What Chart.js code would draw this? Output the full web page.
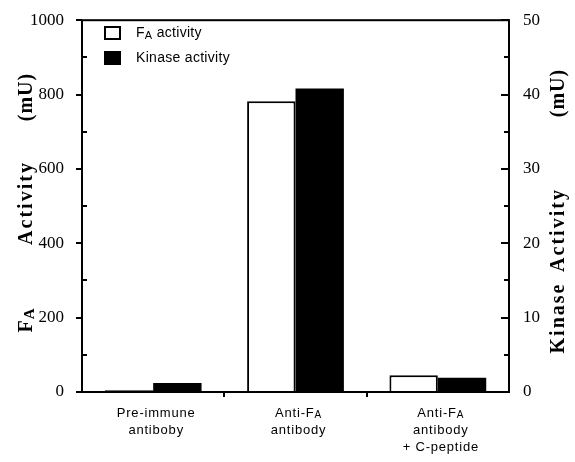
<!DOCTYPE html>
<html>
<head>
<meta charset="utf-8">
<script src="https://cdn.jsdelivr.net/npm/chart.js@4.4.0/dist/chart.umd.min.js"></script>
<style>
  html, body { margin: 0; padding: 0; background: #fff; }
</style>
</head>
<body>
<canvas id="canvas" width="575" height="462"></canvas>
<script>
'use strict';

// "_A" marks a subscript A
var categories = ['Pre-immune antiboby', 'Anti-F_A antibody', 'Anti-F_A antibody + C-peptide'];
var categoryLines = [
  ['Pre-immune', 'antiboby'],
  ['Anti-F_A', 'antibody'],
  ['Anti-F_A', 'antibody', '+ C-peptide']
];
var faActivity = [5, 782, 45];         // left axis, mU
var kinaseActivity = [1.2, 40.8, 1.9];  // right axis, mU
var leftMax = 1000;
var leftStep = 200;
var rightMax = 50;
var rightStep = 10;
var seriesNames = ['F_A activity', 'Kinase activity'];

var serif = '"Liberation Serif", "Times New Roman", serif';
var sans = '"Liberation Sans", Arial, sans-serif';

function drawRich(ctx, str, x, y, size, weight, family, spacing, align) {
  var segs = [];
  for (var i = 0; i < str.length; i++) {
    if (str[i] === '_') {
      segs.push({t: str[i + 1], sub: true});
      i++;
    } else if (segs.length && !segs[segs.length - 1].sub) {
      segs[segs.length - 1].t += str[i];
    } else {
      segs.push({t: str[i], sub: false});
    }
  }
  var total = 0;
  ctx.letterSpacing = spacing + 'px';
  segs.forEach(function (s) {
    ctx.font = weight + ' ' + (s.sub ? Math.round(size * 0.76) : size) + 'px ' + family;
    s.w = ctx.measureText(s.t).width;
    total += s.w;
  });
  var cx = x;
  if (align === 'center') cx = x - total / 2;
  ctx.textAlign = 'left';
  ctx.textBaseline = 'middle';
  segs.forEach(function (s) {
    ctx.font = weight + ' ' + (s.sub ? Math.round(size * 0.76) : size) + 'px ' + family;
    ctx.fillText(s.t, cx, s.sub ? y + size * 0.18 : y);
    cx += s.w;
  });
  ctx.letterSpacing = '0px';
}

function drawUp(ctx, str, x, y, size, spacing) {
  ctx.save();
  ctx.translate(x, y);
  ctx.rotate(-Math.PI / 2);
  drawRich(ctx, str, 0, 0, size, 'bold', serif, spacing, 'center');
  ctx.restore();
}

var framePlugin = {
  id: 'frame',
  afterDraw: function (chart) {
    var ctx = chart.ctx;
    var a = chart.chartArea;
    var y = chart.scales.y;
    var y2 = chart.scales.y2;
    var x = chart.scales.x;
    ctx.save();
    ctx.strokeStyle = '#000';
    ctx.fillStyle = '#000';
    ctx.lineWidth = 2;
    ctx.strokeRect(a.left, a.top, a.right - a.left, a.bottom - a.top);

    ctx.beginPath();
    var v, p;
    for (v = 0; v <= leftMax; v += leftStep / 2) {
      p = Math.round(y.getPixelForValue(v));
      if (v % leftStep === 0) {
        ctx.moveTo(a.left - 6, p);
        ctx.lineTo(a.left, p);
      } else {
        ctx.moveTo(a.left, p);
        ctx.lineTo(a.left + 5, p);
      }
    }
    for (v = 0; v <= rightMax; v += rightStep / 2) {
      p = Math.round(y2.getPixelForValue(v));
      ctx.moveTo(a.right, p);
      ctx.lineTo(a.right - (v % rightStep === 0 ? 8 : 5), p);
    }
    for (var i = 0; i < categories.length - 1; i++) {
      p = Math.round((x.getPixelForValue(i) + x.getPixelForValue(i + 1)) / 2);
      ctx.moveTo(p, a.bottom);
      ctx.lineTo(p, a.bottom + 5);
    }
    ctx.stroke();

    // category labels
    ctx.fillStyle = '#000';
    categoryLines.forEach(function (lines, i) {
      var cx = x.getPixelForValue(i) + 3;
      lines.forEach(function (line, j) {
        drawRich(ctx, line, cx, 413 + j * 17, 13, 'normal', sans, 0.8, 'center');
      });
    });

    // legend
    ctx.lineWidth = 2;
    ctx.fillStyle = '#fff';
    ctx.fillRect(105, 27, 15, 12);
    ctx.strokeRect(105, 27, 15, 12);
    ctx.fillStyle = '#000';
    ctx.fillRect(104, 51, 17, 14);
    drawRich(ctx, seriesNames[0], 136, 33, 14, 'normal', sans, 0.3, 'left');
    drawRich(ctx, seriesNames[1], 136, 58, 14, 'normal', sans, 0.3, 'left');

    // axis titles
    drawUp(ctx, '(mU)', 27, 97, 20, 1);
    drawUp(ctx, 'Activity', 27, 203, 20, 2);
    drawUp(ctx, 'F_A', 27, 320, 20, 1);
    drawUp(ctx, '(mU)', 559, 93, 20, 1);
    drawUp(ctx, 'Activity', 559, 230, 20, 2);
    drawUp(ctx, 'Kinase', 559, 318, 20, 2);
    ctx.restore();
  }
};

var canvas = document.getElementById('canvas');
var ctx = canvas.getContext('2d');

function plainTick(value) {
  return String(value);
}

var chartStuff = {
  type: 'bar',
  data: {
    labels: categories,
    datasets: [{
      label: seriesNames[0],
      data: faActivity,
      yAxisID: 'y',
      backgroundColor: '#fff',
      borderColor: '#000',
      borderWidth: 2,
      borderSkipped: 'bottom'
    }, {
      label: seriesNames[1],
      data: kinaseActivity,
      yAxisID: 'y2',
      backgroundColor: '#000',
      borderColor: '#000',
      borderWidth: 0
    }]
  },
  options: {
    responsive: false,
    animation: false,
    devicePixelRatio: 1,
    layout: { padding: { top: 14, left: 0, right: 0, bottom: 0 } },
    categoryPercentage: 0.68,
    barPercentage: 1,
    plugins: {
      legend: { display: false },
      tooltip: { enabled: false }
    },
    scales: {
      x: {
        grid: { display: false },
        border: { display: false },
        ticks: { display: false },
        afterFit: function (s) { s.height = 70; }
      },
      y: {
        position: 'left',
        min: 0,
        max: leftMax,
        grid: { display: false },
        border: { display: false },
        ticks: {
          stepSize: leftStep,
          padding: 10,
          color: '#000',
          font: { family: serif, size: 17 },
          callback: plainTick
        },
        afterFit: function (s) { s.width = 82; }
      },
      y2: {
        position: 'right',
        min: 0,
        max: rightMax,
        grid: { display: false },
        border: { display: false },
        ticks: {
          stepSize: rightStep,
          padding: 6,
          color: '#000',
          font: { family: serif, size: 17 },
          callback: plainTick
        },
        afterFit: function (s) { s.width = 66; }
      }
    }
  },
  plugins: [framePlugin]
};

var barChart = new Chart(ctx, chartStuff);
</script>
</body>
</html>
